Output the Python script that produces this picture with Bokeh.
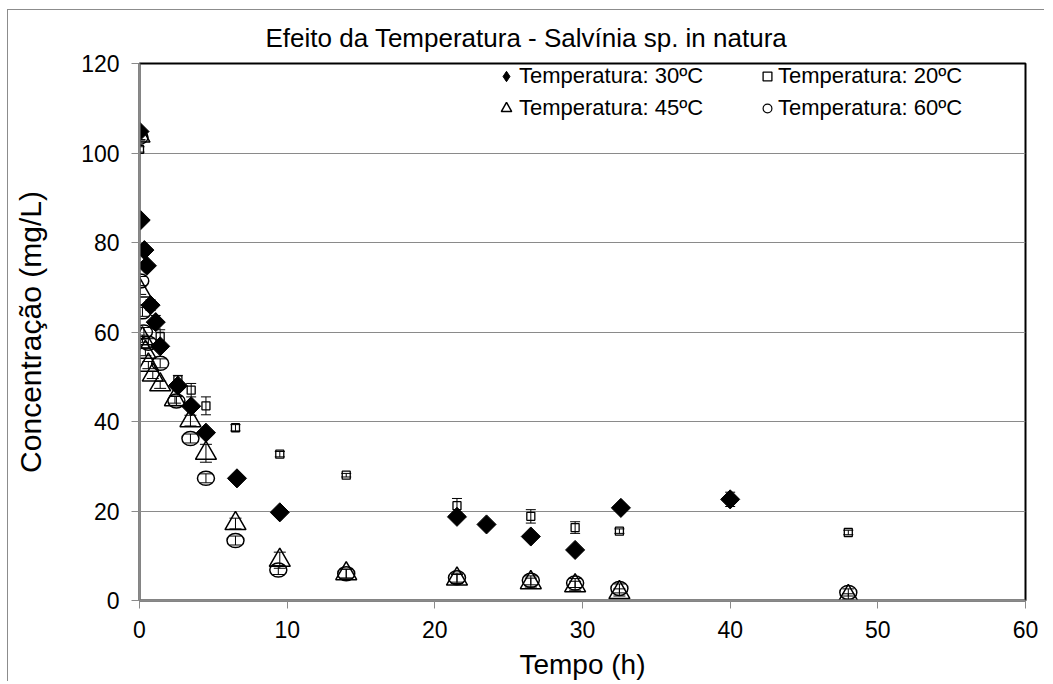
import numpy as np
from bokeh.plotting import figure
from bokeh.models import (ColumnDataSource, Whisker, TeeHead, Legend, LegendItem,
                          Range1d, FixedTicker)
from bokeh.embed import file_html
from bokeh.resources import INLINE

FONT = "Liberation Sans"

# ---- data ----
t30 = [0, 0.08, 0.33, 0.5, 0.75, 1.1, 1.4, 2.6, 3.5, 4.5, 6.6, 9.5, 21.5, 23.5, 26.5, 29.5, 32.6, 40]
c30 = [104.8, 85.0, 78.3, 74.8, 66.0, 62.2, 56.8, 48.0, 43.4, 37.5, 27.3, 19.7, 18.7, 17.0, 14.3, 11.3, 20.7, 22.6]
e30 = [0.8, 0.5, 0.5, 0.5, 1.2, 1.5, 0.8, 1.0, 0.8, 0.5, 0.5, 0.5, 0.5, 0.5, 0.5, 0.5, 0.6, 1.6]

t20 = [0, 1.4, 2.6, 3.5, 4.5, 6.5, 9.5, 14, 21.5, 26.5, 29.5, 32.5, 48]
c20 = [100.8, 59.0, 49.3, 47.0, 43.5, 38.6, 32.7, 28.0, 21.2, 18.8, 16.3, 15.5, 15.2]
e20 = [0.6, 1.5, 1.0, 1.5, 2.0, 0.7, 0.6, 0.4, 1.6, 1.5, 1.3, 0.5, 0.5]

t45 = [0, 0.05, 0.2, 0.4, 0.6, 0.9, 1.4, 2.4, 3.45, 4.5, 6.5, 9.5, 14, 21.5, 26.5, 29.5, 32.5, 48]
c45 = [103.8, 69.2, 58.5, 55.5, 52.6, 50.4, 48.2, 44.9, 40.2, 32.9, 17.2, 9.0, 6.0, 4.8, 4.0, 3.3, 1.8, 0.9]
e45 = [0.8, 0.8, 0.8, 0.8, 0.8, 0.8, 0.8, 0.8, 1.2, 2.0, 1.2, 1.8, 1.0, 1.0, 1.0, 1.0, 0.8, 0.6]

t60 = [0, 0.05, 0.2, 0.3, 0.6, 1.4, 2.5, 3.45, 4.5, 6.5, 9.4, 14, 21.5, 26.5, 29.5, 32.5, 48]
c60 = [103.5, 71.4, 64.5, 60.0, 57.5, 53.0, 44.6, 36.2, 27.3, 13.4, 6.8, 6.0, 5.1, 4.5, 3.9, 2.7, 1.8]
e60 = [0.8, 1.0, 1.0, 1.0, 1.0, 1.0, 1.0, 1.0, 1.0, 1.0, 1.0, 1.0, 1.0, 1.0, 1.0, 1.0, 0.8]

title_text = "Efeito da Temperatura - Salvínia sp. in natura"
labels = ["Temperatura: 30ºC", "Temperatura: 20ºC", "Temperatura: 45ºC", "Temperatura: 60ºC"]
x_ticks = [0, 10, 20, 30, 40, 50, 60]
y_ticks = [0, 20, 40, 60, 80, 100, 120]
grid_ticks = [20, 40, 60, 80, 100]

def src(t, c, e):
    t = np.array(t, float); c = np.array(c, float); e = np.array(e, float)
    return ColumnDataSource(dict(x=t, y=c, upper=c + e, lower=c - e))

s30, s20, s45, s60 = src(t30, c30, e30), src(t20, c20, e20), src(t45, c45, e45), src(t60, c60, e60)

p = figure(width=1037, height=672, output_backend="svg", toolbar_location=None,
           x_range=Range1d(0, 60), y_range=Range1d(0, 120),
           min_border_left=131, min_border_right=20, min_border_top=52, min_border_bottom=77)
p.styles = {"border-top": "1px solid #8c8c8c", "border-left": "1px solid #8c8c8c",
            "margin-left": "7px", "margin-top": "9px"}

p.title.text = title_text
p.title.text_font = FONT
p.title.text_font_size = "26px"
p.title.text_font_style = "normal"
p.title.text_color = "black"
p.title.align = "left"
p.title.offset = 126
p.title.standoff = 21

p.outline_line_color = "black"
p.outline_line_width = 2
p.background_fill_color = "white"
p.border_fill_color = "white"

p.xgrid.visible = False
p.ygrid.ticker = FixedTicker(ticks=grid_ticks)
p.ygrid.grid_line_color = "#8a8a8a"
p.ygrid.grid_line_width = 1
p.xaxis.ticker = FixedTicker(ticks=x_ticks)
p.yaxis.ticker = FixedTicker(ticks=y_ticks)

for ax in (p.xaxis[0], p.yaxis[0]):
    ax.axis_line_color = "#8a8a8a"
    ax.axis_line_width = 2
    ax.major_tick_line_color = "#8a8a8a"
    ax.major_tick_out = 8
    ax.major_tick_in = 0
    ax.minor_tick_line_color = None
    ax.major_label_text_font = FONT
    ax.major_label_text_font_size = "23px"
    ax.major_label_text_color = "black"
    ax.major_label_standoff = 12
    ax.axis_label_text_font = FONT
    ax.axis_label_text_font_style = "normal"
    ax.axis_label_text_color = "black"

p.xaxis.axis_label = "Tempo (h)"
p.xaxis.axis_label_text_font_size = "28px"
p.xaxis.axis_label_standoff = 8
p.yaxis.axis_label = "Concentração (mg/L)"
p.yaxis.axis_label_text_font_size = "30px"
p.yaxis.axis_label_standoff = 31

# error bars
for s, hs in ((s30, 10), (s20, 10), (s45, 12), (s60, 12)):
    w = Whisker(source=s, base="x", upper="upper", lower="lower",
                line_color="black", line_width=1,
                upper_head=TeeHead(size=hs, line_color="black", line_width=1),
                lower_head=TeeHead(size=hs, line_color="black", line_width=1))
    p.add_layout(w)

r20 = p.scatter("x", "y", source=s20, marker="square", size=8, fill_alpha=0,
                line_color="black", line_width=1.3)
r45 = p.scatter("x", "y", source=s45, marker="triangle", size=21, fill_alpha=0,
                line_color="black", line_width=1.5)
r60 = p.ellipse("x", "y", source=s60, width=17, height=14, width_units="screen",
                height_units="screen", fill_alpha=0, line_color="black", line_width=1.5)
r30 = p.scatter("x", "y", source=s30, marker="square", size=13.5, angle=np.pi / 4,
                fill_color="black", line_color="black", line_width=1)

# legend-only proxies (a single NaN point, nothing is drawn) for the legend symbols
nan_src = ColumnDataSource(dict(x=[np.nan], y=[np.nan]))
k30 = p.scatter("x", "y", source=nan_src, marker="diamond", fill_color="black",
                line_color="black", line_width=1)
k60 = p.scatter("x", "y", source=nan_src, marker="circle", fill_alpha=0,
                line_color="black", line_width=1.2)

common = dict(border_line_alpha=0, background_fill_alpha=0, padding=0, margin=0,
              label_text_font=FONT, label_text_font_size="22px", label_text_color="black",
              spacing=2, orientation="vertical", label_standoff=0)
leg1 = Legend(items=[LegendItem(label=labels[0], renderers=[k30]),
                     LegendItem(label=labels[2], renderers=[r45])],
              location=(354, 477), glyph_width=26, glyph_height=30, label_height=30, **common)
leg2 = Legend(items=[LegendItem(label=labels[1], renderers=[r20]),
                     LegendItem(label=labels[3], renderers=[k60])],
              location=(617, 477), glyph_width=22, glyph_height=30, label_height=30, **common)
p.add_layout(leg1)
p.add_layout(leg2)

open("out.html", "w").write(file_html(p, INLINE))
